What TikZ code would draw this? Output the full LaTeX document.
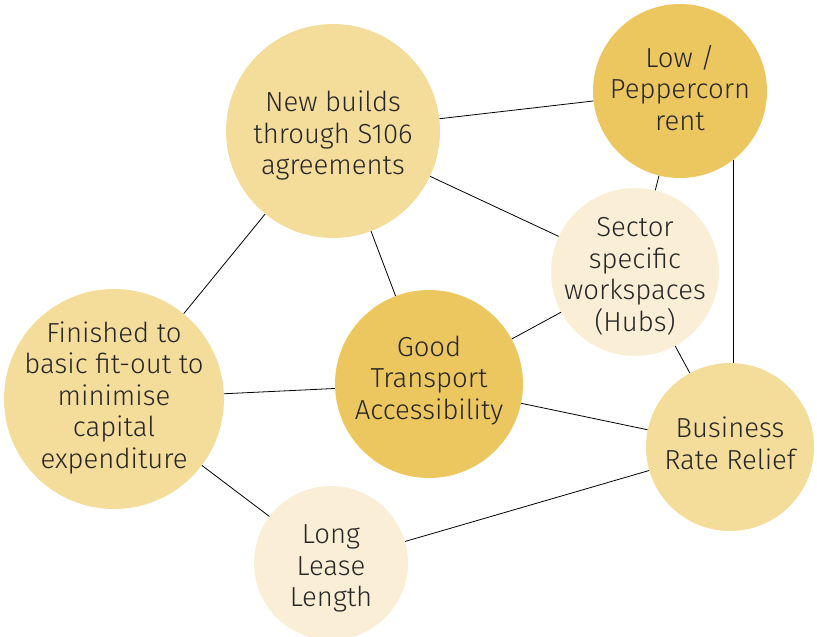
\documentclass[tikz,border=0pt]{standalone}
\usepackage{fontspec}
\setmainfont{Fira Sans}[UprightFont=* Light]
\definecolor{cdark}{HTML}{ECC760}
\definecolor{cmid}{HTML}{F4DC9B}
\definecolor{cpale}{HTML}{FAEFD6}
\begin{document}
\begin{tikzpicture}[x=1pt,y=-1pt,
  bub/.style={circle, inner sep=0pt, draw=none},
  txt/.style={align=center, inner sep=0pt, text=black!85,
    font=\fontsize{27.5}{31.5}\selectfont},
  link/.style={draw=black, line width=0.8pt}]
\useasboundingbox (0,0) rectangle (817,637);
\node[bub, fill=cmid,  minimum size=214pt] (nb)  at (333,131) {};
\node[bub, fill=cdark, minimum size=174pt] (low) at (680,91) {};
\node[bub, fill=cpale, minimum size=168pt] (sec) at (635,272) {};
\node[bub, fill=cmid,  minimum size=220pt] (fin) at (114,399) {};
\node[bub, fill=cdark, minimum size=188pt] (gta) at (429,384) {};
\node[bub, fill=cmid,  minimum size=168pt] (biz) at (730,447) {};
\node[bub, fill=cpale, minimum size=154pt] (lll) at (331,563) {};

\node[txt] (tnb)  at ([yshift=-4.5pt]nb)  {New builds\\through S106\\agreements};
\node[txt] (tlow) at ([yshift=3.3pt]low) {Low /\\Peppercorn\\rent};
\node[txt] (tsec) at ([yshift=-4.2pt]sec) {Sector\\specific\\workspaces\\(Hubs)};
\node[txt] (tfin) at ([yshift=1.3pt]fin) {Finished to\\basic fit-out to\\minimise\\capital\\expenditure};
\node[txt] (tgta) at ([yshift=3.5pt]gta) {Good\\Transport\\Accessibility};
\node[txt] (tbiz) at ([yshift=3.7pt]biz) {Business\\Rate Relief};
\node[txt] (tlll) at ([yshift=-5.7pt]lll) {Long\\Lease\\Length};

\draw[link] (nb) -- (low);
\draw[link] (nb) -- (sec);
\draw[link] (nb) -- (gta);
\draw[link] (nb) -- (fin);
\draw[link] (low) -- (sec);
\draw[link] (low.-52.5) -- (low.-52.5 |- biz.north);
\draw[link] (sec) -- (gta);
\draw[link] (sec) -- (biz);
\draw[link] (fin) -- (gta);
\draw[link] (gta) -- (biz);
\draw[link] (fin) -- (lll);
\draw[link] (lll) -- (biz);
\end{tikzpicture}
\end{document}
